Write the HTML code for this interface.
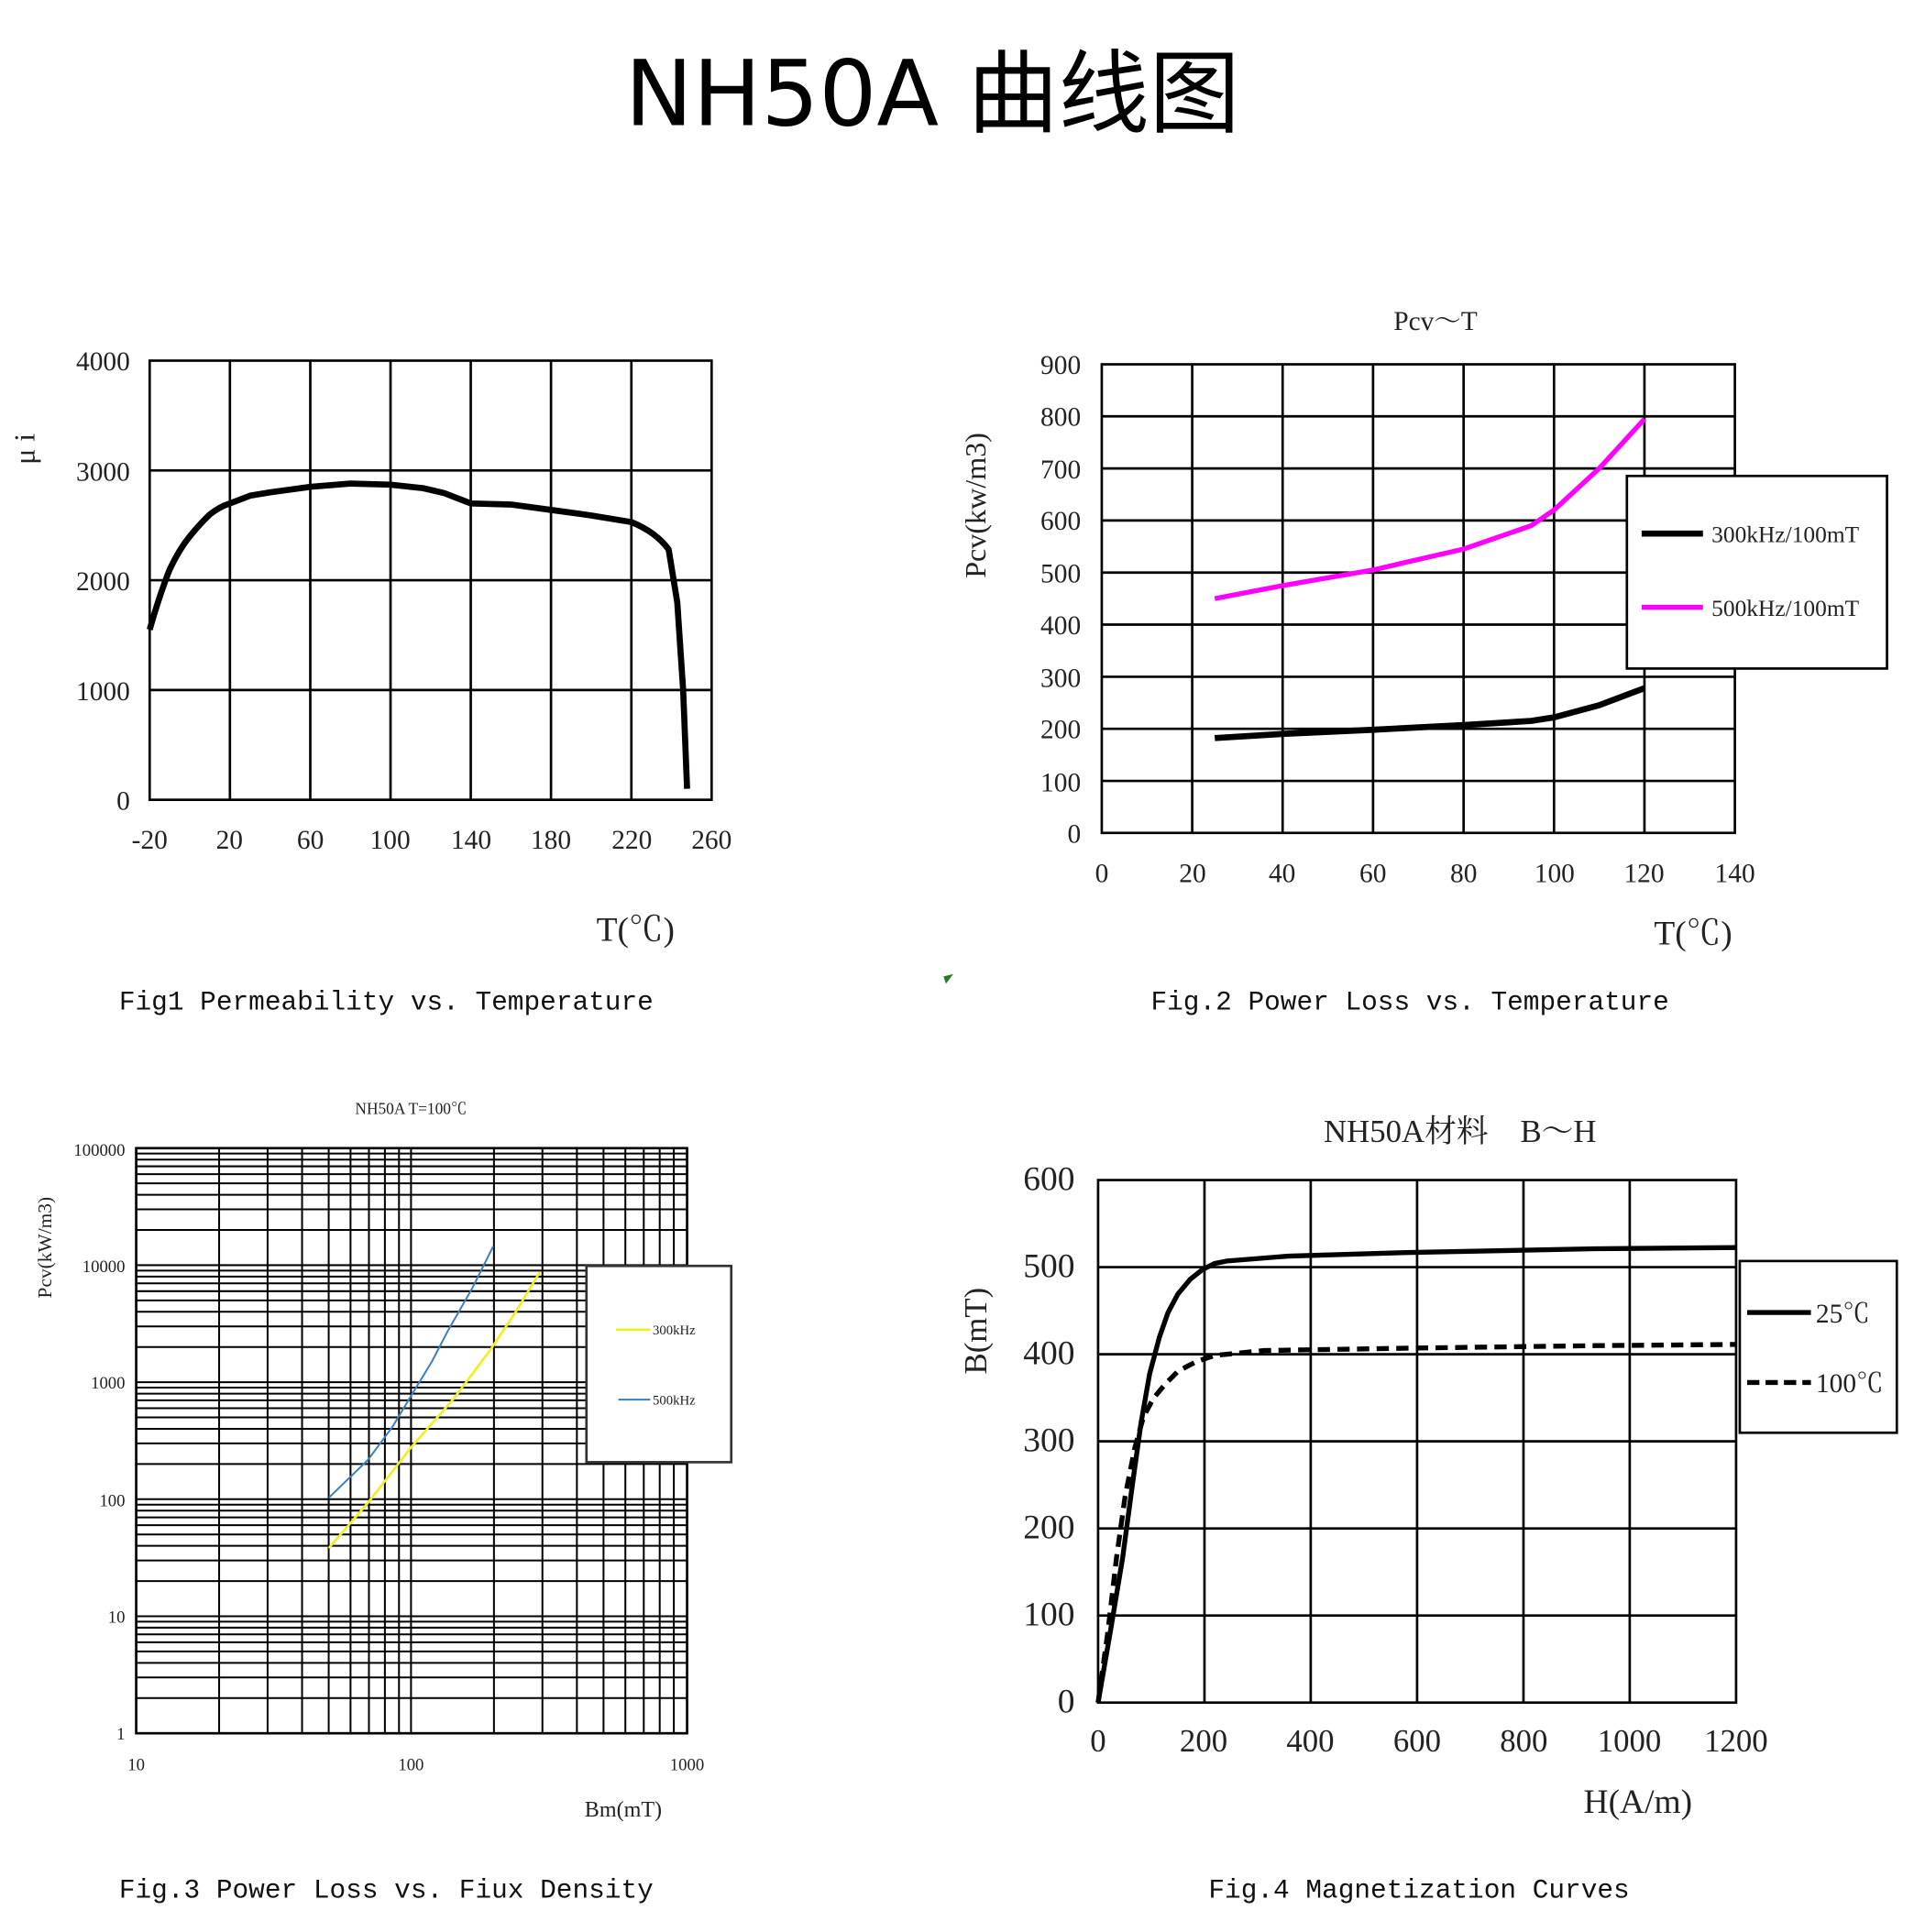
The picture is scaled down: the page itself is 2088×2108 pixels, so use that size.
<!DOCTYPE html>
<html><head><meta charset="utf-8"><style>
html,body{margin:0;padding:0;background:#fff;}
svg{display:block;}
.t{font-family:"Liberation Serif","Noto Serif CJK SC",serif;fill:#222;}
.m{font-family:"Liberation Mono","Noto Sans CJK SC",monospace;fill:#111;}
</style></head><body>
<svg width="2088" height="2108" viewBox="0 0 1560 1575" preserveAspectRatio="none" xmlns="http://www.w3.org/2000/svg">
<rect width="1560" height="1575" fill="#fff"/>
<text x="760" y="102" text-anchor="middle" font-family="'DejaVu Sans','Noto Sans CJK SC',sans-serif" font-size="74" fill="#000">NH50A 曲线图</text>

<!-- Fig1 -->
<g stroke="#000" stroke-width="2" fill="none">
<rect x="122" y="294" width="458" height="358"/>
<path d="M187.4 294V652M252.9 294V652M318.3 294V652M383.7 294V652M449.1 294V652M514.6 294V652M122 383.5H580M122 473H580M122 562.5H580"/>
</g>
<path fill="none" stroke="#000" stroke-width="5" stroke-linejoin="round" d="M122 513.3Q130 485 138.4 464Q146 448 154.7 437.2Q163 427 171.1 419.3Q179 413 187.4 410.4L203.8 404.1L220.2 401.4L252.9 396.9L285.6 394.2L318.3 395.1L345 398L362 402L383.7 410.4L416.4 411.3L449.1 415.7L481.8 420.2L514.6 425.6Q535 434 545 448L552 491L556.8 562.5L560 643"/>
<g class="t" font-size="22" text-anchor="end">
<text x="106" y="302">4000</text><text x="106" y="392">3000</text><text x="106" y="481">2000</text><text x="106" y="571">1000</text><text x="106" y="660">0</text>
</g>
<g class="t" font-size="22" text-anchor="middle">
<text x="122" y="692">-20</text><text x="187" y="692">20</text><text x="253" y="692">60</text><text x="318" y="692">100</text><text x="384" y="692">140</text><text x="449" y="692">180</text><text x="515" y="692">220</text><text x="580" y="692">260</text>
<text x="518" y="767" font-size="28">T(℃)</text>
</g>
<text class="t" font-size="24" transform="translate(28,366) rotate(-90)" text-anchor="middle">μ i</text>
<text class="m" x="97" y="823" font-size="22">Fig1 Permeability vs. Temperature</text>

<!-- Fig2 -->
<text class="t" x="1170" y="269" font-size="22" text-anchor="middle">Pcv～T</text>
<g stroke="#000" stroke-width="2" fill="none">
<rect x="898" y="297" width="516" height="382"/>
<path d="M971.7 297V679M1045.4 297V679M1119.1 297V679M1192.9 297V679M1266.6 297V679M1340.3 297V679M898 339.4H1414M898 381.9H1414M898 424.3H1414M898 466.8H1414M898 509.2H1414M898 551.7H1414M898 594.1H1414M898 636.6H1414"/>
</g>
<path fill="none" stroke="#f0f" stroke-width="4" d="M990.1 488L1045.4 477.4L1119.1 464.6L1192.9 447.6L1248.1 428.5L1266.6 415.8L1303.4 381.9L1340.3 341.6"/>
<path fill="none" stroke="#000" stroke-width="5" d="M990.1 601.7L1045.4 598.3L1119.1 594.9L1192.9 591.1L1248.1 587.7L1266.6 584.8L1303.4 574.9L1340.3 561"/>
<rect x="1326" y="388" width="212" height="157" fill="#fff" stroke="#000" stroke-width="2"/>
<path d="M1338 435H1388" stroke="#000" stroke-width="5"/>
<path d="M1338 495H1388" stroke="#f0f" stroke-width="4"/>
<text class="t" x="1395" y="442" font-size="19">300kHz/100mT</text>
<text class="t" x="1395" y="502" font-size="19">500kHz/100mT</text>
<g class="t" font-size="22" text-anchor="end">
<text x="881" y="305">900</text><text x="881" y="347">800</text><text x="881" y="390">700</text><text x="881" y="432">600</text><text x="881" y="475">500</text><text x="881" y="517">400</text><text x="881" y="560">300</text><text x="881" y="602">200</text><text x="881" y="645">100</text><text x="881" y="687">0</text>
</g>
<g class="t" font-size="22" text-anchor="middle">
<text x="898" y="719">0</text><text x="972" y="719">20</text><text x="1045" y="719">40</text><text x="1119" y="719">60</text><text x="1193" y="719">80</text><text x="1267" y="719">100</text><text x="1340" y="719">120</text><text x="1414" y="719">140</text>
<text x="1380" y="770" font-size="28">T(℃)</text>
</g>
<text class="t" font-size="24" transform="translate(803,412) rotate(-90)" text-anchor="middle">Pcv(kw/m3)</text>
<path d="M769 796l8 -2l-6 8z" fill="#2a7a2a"/>
<text class="m" x="938" y="823" font-size="22">Fig.2 Power Loss vs. Temperature</text>

<!-- Fig3 -->
<text class="t" x="335" y="908" font-size="13" text-anchor="middle">NH50A   T=100℃</text>
<g stroke="#000" stroke-width="1.5" fill="none">
<path d="M178.6 936V1413M218.1 936V1413M246.2 936V1413M267.9 936V1413M285.7 936V1413M300.7 936V1413M313.7 936V1413M325.2 936V1413M335 936V1413M402.6 936V1413M442.1 936V1413M470.2 936V1413M491.9 936V1413M509.7 936V1413M524.7 936V1413M537.7 936V1413M549.2 936V1413"/>
<path d="M111 1384.3H560M111 1367.5H560M111 1355.6H560M111 1346.3H560M111 1338.8H560M111 1332.4H560M111 1326.9H560M111 1322H560M111 1317.6H560
M111 1288.9H560M111 1272.1H560M111 1260.2H560M111 1250.9H560M111 1243.4H560M111 1237H560M111 1231.5H560M111 1226.6H560M111 1222.2H560
M111 1193.5H560M111 1176.7H560M111 1164.8H560M111 1155.5H560M111 1148H560M111 1141.6H560M111 1136.1H560M111 1131.2H560M111 1126.8H560
M111 1098.1H560M111 1081.3H560M111 1069.4H560M111 1060.1H560M111 1052.6H560M111 1046.2H560M111 1040.7H560M111 1035.8H560M111 1031.4H560
M111 1002.7H560M111 985.9H560M111 974H560M111 964.7H560M111 957.2H560M111 950.8H560M111 945.3H560M111 940.4H560"/>
<rect x="111" y="936" width="449" height="477" stroke-width="2"/>
</g>
<path fill="none" stroke="#3a7fc0" stroke-width="1.5" d="M268 1221L300 1190L320 1163L335 1138L352 1110L365 1085L385 1050L402 1016"/>
<path fill="none" stroke="#f0f020" stroke-width="2" d="M268 1262L300 1225L335 1180L370 1140L400 1100L420 1070L440 1037"/>
<rect x="478" y="1032" width="118" height="160" fill="#fff" stroke="#333" stroke-width="2"/>
<path d="M502 1084H530" stroke="#f0f020" stroke-width="2"/>
<path d="M504 1141H530" stroke="#3a7fc0" stroke-width="1.5"/>
<text class="t" x="532" y="1088" font-size="11">300kHz</text>
<text class="t" x="532" y="1145" font-size="11">500kHz</text>
<g class="t" font-size="14" text-anchor="end">
<text x="102" y="942">100000</text><text x="102" y="1037">10000</text><text x="102" y="1132">1000</text><text x="102" y="1228">100</text><text x="102" y="1323">10</text><text x="102" y="1418">1</text>
</g>
<g class="t" font-size="14" text-anchor="middle">
<text x="111" y="1443">10</text><text x="335" y="1443">100</text><text x="560" y="1443">1000</text>
<text x="508" y="1481" font-size="18">Bm(mT)</text>
</g>
<text class="t" font-size="16" transform="translate(42,1017) rotate(-90)" text-anchor="middle">Pcv(kW/m3)</text>
<text class="m" x="97" y="1547" font-size="22">Fig.3 Power Loss vs. Fiux Density</text>

<!-- Fig4 -->
<text class="t" x="1190" y="931" font-size="26" text-anchor="middle">NH50A材料　B～H</text>
<g stroke="#000" stroke-width="2" fill="none">
<rect x="895" y="962" width="520" height="426"/>
<path d="M981.7 962V1388M1068.3 962V1388M1155 962V1388M1241.7 962V1388M1328.3 962V1388M895 1033H1415M895 1104H1415M895 1175H1415M895 1246H1415M895 1317H1415"/>
</g>
<path fill="none" stroke="#000" stroke-width="4" d="M895 1388L905 1330L915 1270L923 1210L930 1160L937 1120L945 1090L952 1070L960 1055L970 1043L980 1035L990 1030L1000 1028L1050 1024L1150 1021L1300 1018L1415 1017"/>
<path fill="none" stroke="#000" stroke-width="4" stroke-dasharray="10,6" d="M895 1388L903 1330L910 1270L917 1220L925 1180L932 1155L940 1140L950 1128L960 1118L975 1110L990 1105L1030 1101L1150 1099L1300 1097L1415 1096"/>
<rect x="1418" y="1028" width="128" height="140" fill="#fff" stroke="#000" stroke-width="2"/>
<path d="M1424 1070H1476" stroke="#000" stroke-width="4"/>
<path d="M1424 1127H1476" stroke="#000" stroke-width="4" stroke-dasharray="10,5"/>
<text class="t" x="1480" y="1078" font-size="22">25℃</text>
<text class="t" x="1480" y="1135" font-size="22">100℃</text>
<g class="t" font-size="28" text-anchor="end">
<text x="876" y="970">600</text><text x="876" y="1041">500</text><text x="876" y="1112">400</text><text x="876" y="1183">300</text><text x="876" y="1254">200</text><text x="876" y="1325">100</text><text x="876" y="1396">0</text>
</g>
<g class="t" font-size="26" text-anchor="middle">
<text x="895" y="1428">0</text><text x="981" y="1428">200</text><text x="1068" y="1428">400</text><text x="1155" y="1428">600</text><text x="1242" y="1428">800</text><text x="1328" y="1428">1000</text><text x="1415" y="1428">1200</text>
<text x="1335" y="1478" font-size="28">H(A/m)</text>
</g>
<text class="t" font-size="26" transform="translate(804,1085) rotate(-90)" text-anchor="middle">B(mT)</text>
<text class="m" x="985" y="1547" font-size="22">Fig.4 Magnetization Curves</text>
</svg>
</body></html>
